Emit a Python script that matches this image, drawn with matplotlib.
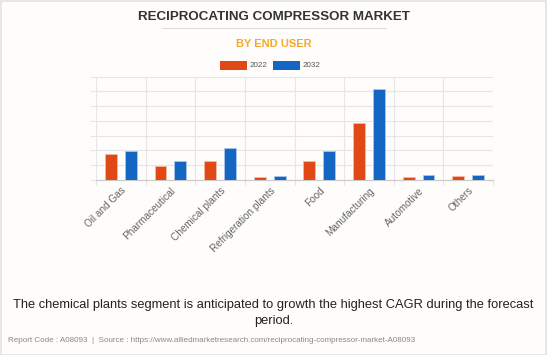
import matplotlib
matplotlib.use("Agg")
import matplotlib.pyplot as plt
import numpy as np
from matplotlib.patches import Rectangle
from matplotlib.lines import Line2D

categories = ["Oil and Gas", "Pharmaceutical", "Chemical plants", "Refrigeration plants",
              "Food", "Manufacturing", "Automotive", "Others"]
values_2022 = [1.75, 0.95, 1.27, 0.18, 1.31, 3.88, 0.23, 0.27]
values_2032 = [1.97, 1.31, 2.18, 0.27, 1.97, 6.14, 0.36, 0.36]
series_names = ["2022", "2032"]
colors = ["#E04916", "#1565C3"]

plt.rcParams['font.family'] = ['Liberation Sans', 'DejaVu Sans']

W, H = 547, 355
fig = plt.figure(figsize=(W / 100, H / 100), dpi=100)
fig.patch.set_facecolor("#FEFDFB")

# border
fig.add_artist(Rectangle((0.5 / W, 0.5 / H), 1 - 1.5 / W, 1 - 1.5 / H, transform=fig.transFigure,
                         fill=False, edgecolor="#E2E2E2", lw=1.2))

ax = fig.add_axes([96 / W, 1 - 180 / H, 397 / W, (180 - 76.7) / H])
ax.set_facecolor("none")
x = np.arange(len(categories))
bw = 0.24
off = 0.2
ax.bar(x - off, values_2022, bw, color=colors[0], edgecolor="#F4B9A4", linewidth=0.6, zorder=3)
ax.bar(x + off, values_2032, bw, color=colors[1], edgecolor="#A9C6EC", linewidth=0.6, zorder=3)

ax.set_xlim(-0.5, len(categories) - 0.5)
ax.set_ylim(0, 7)
ax.set_yticks(np.arange(0, 8, 1))
ax.set_yticklabels([])
ax.tick_params(axis='y', length=4.3, color="#E6E6E6", width=0.8)
ax.grid(axis='y', color="#E6E6E6", lw=0.8, zorder=0)
ax.set_xticks(x)
ax.set_xticklabels(categories, rotation=45, ha='right', rotation_mode='anchor',
                   fontsize=7.2, color="#666666")
ax.tick_params(axis='x', length=0, pad=4)
ax.set_xticks(np.arange(-0.5, len(categories), 1), minor=True)
ax.tick_params(axis='x', which='minor', length=3.6, color="#E6E6E6", width=0.8)
ax.grid(axis='x', which='minor', color="#E6E6E6", lw=0.8, zorder=0)
for s in ["top", "right", "left"]:
    ax.spines[s].set_visible(False)
ax.spines["bottom"].set_color("#CCCCCC")
ax.spines["bottom"].set_linewidth(0.9)

# titles
fig.text(273.5 / W, 1 - 17 / H, "RECIPROCATING COMPRESSOR MARKET", ha='center', va='center',
         fontsize=9.6, fontweight='bold', color="#333333")
fig.add_artist(Line2D([162 / W, 386 / W], [1 - 28 / H, 1 - 28 / H], transform=fig.transFigure,
                      color="#DDDDDD", lw=0.8))
fig.text(273.5 / W, 1 - 44 / H, "BY END USER", ha='center', va='center',
         fontsize=8, fontweight='bold', color="#F8A827")

# legend
for i, (name, c) in enumerate(zip(series_names, colors)):
    x0 = [220, 273][i]
    fig.add_artist(Rectangle((x0 / W, 1 - 70 / H), 27 / W, 9 / H, transform=fig.transFigure,
                             facecolor=c, edgecolor="none"))
    fig.text((x0 + 30) / W, 1 - 65.5 / H, name, ha='left', va='center', fontsize=5.8,
             color="#555555")

fig.text(273.5 / W, 1 - 305 / H,
         "The chemical plants segment is anticipated to growth the highest CAGR during the forecast",
         ha='center', va='center', fontsize=9.3, color="#222222")
fig.text(273.5 / W, 1 - 321 / H, "period.", ha='center', va='center', fontsize=9.3, color="#222222")
fig.text(8 / W, 1 - 340 / H,
         "Report Code : A08093  |  Source : https://www.alliedmarketresearch.com/reciprocating-compressor-market-A08093",
         ha='left', va='center', fontsize=5.8, color="#888888")

fig.savefig("out.png", dpi=100, facecolor=fig.get_facecolor())
